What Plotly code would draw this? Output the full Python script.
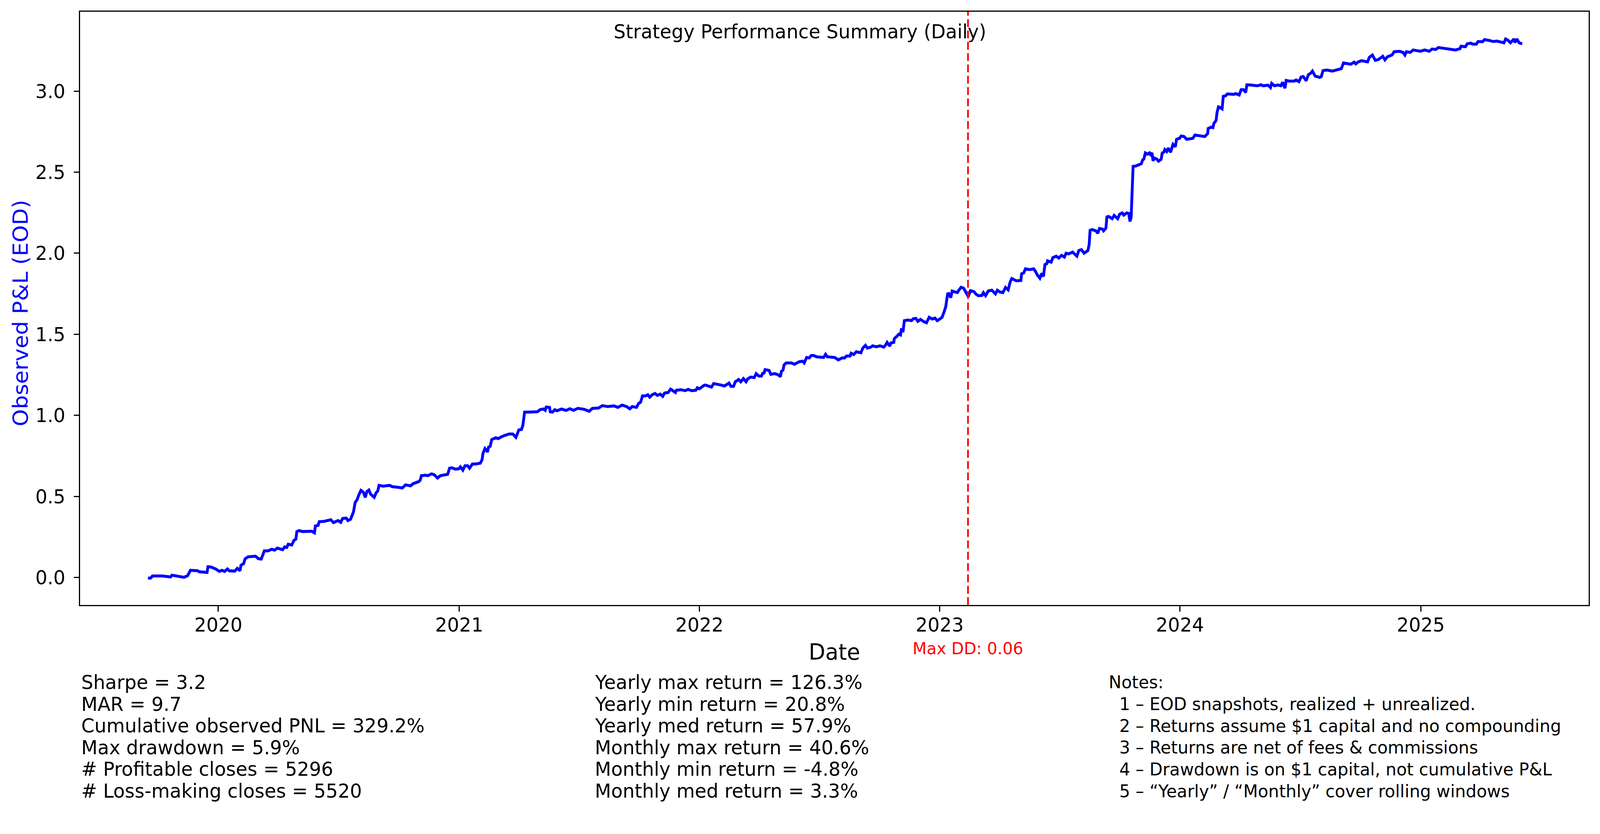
import pandas as pd
import plotly.graph_objects as go

# observed P&L curve (decimal year, P&L)
year_pos = [
    2019.707, 2019.718, 2019.726, 2019.767, 2019.801, 2019.807, 2019.857, 2019.872, 2019.884, 2019.914,
    2019.921, 2019.944, 2019.953, 2019.957, 2019.970, 2019.989, 2020.004, 2020.015, 2020.026, 2020.038,
    2020.045, 2020.068, 2020.079, 2020.090, 2020.094, 2020.105, 2020.111, 2020.123, 2020.154, 2020.166,
    2020.178, 2020.191, 2020.207, 2020.222, 2020.233, 2020.245, 2020.267, 2020.275, 2020.284, 2020.290,
    2020.305, 2020.314, 2020.322, 2020.326, 2020.335, 2020.350, 2020.388, 2020.399, 2020.403, 2020.414,
    2020.419, 2020.440, 2020.467, 2020.478, 2020.497, 2020.508, 2020.516, 2020.531, 2020.538, 2020.549,
    2020.561, 2020.568, 2020.576, 2020.583, 2020.592, 2020.602, 2020.610, 2020.617, 2020.625, 2020.632,
    2020.647, 2020.655, 2020.662, 2020.667, 2020.684, 2020.711, 2020.722, 2020.741, 2020.764, 2020.777,
    2020.798, 2020.809, 2020.824, 2020.832, 2020.838, 2020.843, 2020.852, 2020.858, 2020.870, 2020.885,
    2020.896, 2020.910, 2020.922, 2020.934, 2020.952, 2020.960, 2020.971, 2020.983, 2020.998, 2021.005,
    2021.015, 2021.024, 2021.035, 2021.043, 2021.055, 2021.069, 2021.088, 2021.095, 2021.099, 2021.107,
    2021.118, 2021.122, 2021.129, 2021.135, 2021.152, 2021.163, 2021.171, 2021.189, 2021.208, 2021.223,
    2021.236, 2021.248, 2021.259, 2021.265, 2021.272, 2021.287, 2021.317, 2021.326, 2021.336, 2021.351,
    2021.358, 2021.362, 2021.376, 2021.379, 2021.388, 2021.398, 2021.407, 2021.426, 2021.445, 2021.460,
    2021.476, 2021.494, 2021.520, 2021.541, 2021.554, 2021.580, 2021.596, 2021.618, 2021.645, 2021.660,
    2021.678, 2021.697, 2021.710, 2021.720, 2021.738, 2021.746, 2021.755, 2021.763, 2021.776, 2021.785,
    2021.793, 2021.803, 2021.815, 2021.825, 2021.837, 2021.847, 2021.855, 2021.870, 2021.880, 2021.889,
    2021.900, 2021.904, 2021.923, 2021.941, 2021.953, 2021.968, 2021.985, 2021.991, 2022.000, 2022.018,
    2022.025, 2022.050, 2022.059, 2022.089, 2022.104, 2022.123, 2022.131, 2022.142, 2022.149, 2022.163,
    2022.172, 2022.183, 2022.194, 2022.201, 2022.213, 2022.228, 2022.236, 2022.247, 2022.258, 2022.263,
    2022.269, 2022.273, 2022.290, 2022.297, 2022.314, 2022.328, 2022.337, 2022.341, 2022.348, 2022.352,
    2022.360, 2022.383, 2022.396, 2022.405, 2022.416, 2022.429, 2022.436, 2022.446, 2022.457, 2022.465,
    2022.476, 2022.487, 2022.510, 2022.517, 2022.525, 2022.532, 2022.563, 2022.578, 2022.593, 2022.604,
    2022.612, 2022.627, 2022.631, 2022.642, 2022.653, 2022.672, 2022.680, 2022.691, 2022.699, 2022.714,
    2022.721, 2022.736, 2022.751, 2022.767, 2022.774, 2022.781, 2022.792, 2022.797, 2022.809, 2022.811,
    2022.822, 2022.830, 2022.837, 2022.841, 2022.847, 2022.853, 2022.868, 2022.883, 2022.890, 2022.901,
    2022.909, 2022.920, 2022.935, 2022.945, 2022.956, 2022.969, 2022.980, 2022.990, 2023.000, 2023.010,
    2023.018, 2023.025, 2023.033, 2023.038, 2023.046, 2023.052, 2023.063, 2023.074, 2023.080, 2023.089,
    2023.100, 2023.108, 2023.119, 2023.128, 2023.143, 2023.150, 2023.161, 2023.176, 2023.182, 2023.191,
    2023.202, 2023.217, 2023.232, 2023.240, 2023.251, 2023.263, 2023.274, 2023.285, 2023.293, 2023.300,
    2023.311, 2023.319, 2023.338, 2023.341, 2023.350, 2023.357, 2023.375, 2023.391, 2023.398, 2023.406,
    2023.417, 2023.425, 2023.432, 2023.438, 2023.446, 2023.449, 2023.464, 2023.471, 2023.485, 2023.496,
    2023.507, 2023.519, 2023.526, 2023.537, 2023.553, 2023.566, 2023.571, 2023.579, 2023.590, 2023.601,
    2023.617, 2023.622, 2023.626, 2023.635, 2023.650, 2023.658, 2023.665, 2023.677, 2023.682, 2023.692,
    2023.696, 2023.703, 2023.718, 2023.726, 2023.741, 2023.749, 2023.760, 2023.766, 2023.779, 2023.787,
    2023.792, 2023.797, 2023.801, 2023.805, 2023.816, 2023.827, 2023.839, 2023.845, 2023.850, 2023.856,
    2023.865, 2023.873, 2023.878, 2023.884, 2023.888, 2023.894, 2023.903, 2023.911, 2023.922, 2023.926,
    2023.934, 2023.937, 2023.945, 2023.951, 2023.961, 2023.971, 2023.981, 2023.986, 2023.998, 2024.005,
    2024.017, 2024.028, 2024.039, 2024.054, 2024.062, 2024.081, 2024.103, 2024.115, 2024.117, 2024.130,
    2024.137, 2024.141, 2024.150, 2024.154, 2024.160, 2024.167, 2024.175, 2024.180, 2024.190, 2024.197,
    2024.224, 2024.231, 2024.246, 2024.254, 2024.264, 2024.273, 2024.278, 2024.294, 2024.321, 2024.336,
    2024.346, 2024.366, 2024.376, 2024.381, 2024.392, 2024.407, 2024.419, 2024.426, 2024.436, 2024.441,
    2024.452, 2024.475, 2024.482, 2024.494, 2024.503, 2024.512, 2024.524, 2024.533, 2024.542, 2024.550,
    2024.561, 2024.580, 2024.587, 2024.594, 2024.610, 2024.633, 2024.648, 2024.659, 2024.670, 2024.679,
    2024.693, 2024.709, 2024.723, 2024.730, 2024.738, 2024.753, 2024.779, 2024.786, 2024.799, 2024.811,
    2024.824, 2024.832, 2024.842, 2024.851, 2024.862, 2024.872, 2024.881, 2024.889, 2024.911, 2024.926,
    2024.934, 2024.940, 2024.956, 2024.968, 2024.998, 2025.016, 2025.035, 2025.047, 2025.062, 2025.073,
    2025.095, 2025.107, 2025.126, 2025.144, 2025.163, 2025.167, 2025.186, 2025.193, 2025.208, 2025.216,
    2025.231, 2025.238, 2025.257, 2025.265, 2025.287, 2025.302, 2025.317, 2025.346, 2025.353, 2025.362,
    2025.373, 2025.385, 2025.388, 2025.392, 2025.400, 2025.409, 2025.422,
]
pnl = [
    -0.004, -0.004, 0.009, 0.009, 0.003, 0.014, 0.001, 0.010, 0.044, 0.041,
    0.035, 0.029, 0.031, 0.066, 0.064, 0.052, 0.037, 0.044, 0.037, 0.052,
    0.041, 0.039, 0.056, 0.041, 0.075, 0.085, 0.114, 0.127, 0.131, 0.116,
    0.113, 0.164, 0.164, 0.174, 0.168, 0.181, 0.171, 0.188, 0.185, 0.205,
    0.200, 0.229, 0.236, 0.283, 0.289, 0.283, 0.285, 0.275, 0.318, 0.321,
    0.344, 0.346, 0.356, 0.338, 0.351, 0.340, 0.364, 0.366, 0.351, 0.359,
    0.404, 0.462, 0.479, 0.508, 0.537, 0.526, 0.494, 0.531, 0.539, 0.514,
    0.494, 0.522, 0.534, 0.568, 0.563, 0.568, 0.560, 0.557, 0.552, 0.571,
    0.565, 0.579, 0.585, 0.591, 0.600, 0.628, 0.629, 0.631, 0.628, 0.639,
    0.634, 0.613, 0.628, 0.631, 0.636, 0.674, 0.676, 0.668, 0.670, 0.682,
    0.662, 0.689, 0.689, 0.674, 0.700, 0.700, 0.705, 0.726, 0.766, 0.795,
    0.774, 0.804, 0.809, 0.850, 0.862, 0.856, 0.864, 0.876, 0.885, 0.885,
    0.864, 0.910, 0.913, 0.939, 1.020, 1.020, 1.022, 1.022, 1.035, 1.039,
    1.031, 1.051, 1.049, 1.022, 1.020, 1.035, 1.028, 1.039, 1.030, 1.041,
    1.031, 1.043, 1.037, 1.025, 1.043, 1.045, 1.060, 1.054, 1.058, 1.049,
    1.063, 1.054, 1.040, 1.054, 1.049, 1.072, 1.081, 1.120, 1.120, 1.127,
    1.112, 1.127, 1.135, 1.123, 1.131, 1.117, 1.138, 1.141, 1.162, 1.152,
    1.141, 1.155, 1.158, 1.152, 1.160, 1.152, 1.155, 1.170, 1.164, 1.184,
    1.187, 1.174, 1.196, 1.187, 1.181, 1.199, 1.179, 1.179, 1.207, 1.221,
    1.207, 1.227, 1.207, 1.225, 1.236, 1.233, 1.257, 1.242, 1.242, 1.259,
    1.261, 1.282, 1.277, 1.253, 1.257, 1.250, 1.238, 1.271, 1.280, 1.311,
    1.323, 1.323, 1.315, 1.323, 1.331, 1.334, 1.323, 1.357, 1.354, 1.369,
    1.369, 1.361, 1.361, 1.357, 1.377, 1.361, 1.357, 1.342, 1.354, 1.354,
    1.366, 1.366, 1.383, 1.375, 1.392, 1.386, 1.415, 1.432, 1.415, 1.421,
    1.429, 1.423, 1.429, 1.421, 1.432, 1.450, 1.427, 1.447, 1.450, 1.473,
    1.488, 1.501, 1.496, 1.536, 1.513, 1.584, 1.588, 1.584, 1.596, 1.598,
    1.580, 1.592, 1.577, 1.571, 1.605, 1.594, 1.600, 1.584, 1.594, 1.605,
    1.637, 1.669, 1.749, 1.751, 1.726, 1.767, 1.761, 1.758, 1.773, 1.790,
    1.784, 1.758, 1.732, 1.769, 1.763, 1.749, 1.738, 1.740, 1.757, 1.738,
    1.767, 1.772, 1.749, 1.772, 1.761, 1.757, 1.789, 1.774, 1.821, 1.844,
    1.838, 1.830, 1.832, 1.873, 1.879, 1.904, 1.899, 1.904, 1.890, 1.867,
    1.846, 1.876, 1.857, 1.930, 1.936, 1.953, 1.945, 1.973, 1.982, 1.970,
    1.987, 1.976, 2.000, 1.996, 2.007, 1.991, 1.982, 2.017, 2.022, 2.000,
    2.017, 2.052, 2.141, 2.146, 2.138, 2.123, 2.153, 2.149, 2.138, 2.155,
    2.224, 2.227, 2.213, 2.233, 2.213, 2.241, 2.249, 2.235, 2.249, 2.245,
    2.196, 2.224, 2.457, 2.536, 2.538, 2.547, 2.552, 2.576, 2.582, 2.619,
    2.611, 2.619, 2.608, 2.619, 2.570, 2.587, 2.582, 2.568, 2.580, 2.617,
    2.626, 2.640, 2.628, 2.649, 2.623, 2.672, 2.657, 2.703, 2.709, 2.723,
    2.720, 2.703, 2.706, 2.709, 2.729, 2.723, 2.720, 2.738, 2.769, 2.778,
    2.775, 2.801, 2.819, 2.868, 2.903, 2.899, 2.891, 2.968, 2.972, 2.983,
    2.980, 2.985, 2.976, 3.009, 3.009, 2.992, 3.039, 3.038, 3.033, 3.039,
    3.033, 3.037, 3.022, 3.048, 3.033, 3.038, 3.033, 3.055, 3.018, 3.066,
    3.062, 3.062, 3.069, 3.059, 3.087, 3.090, 3.064, 3.101, 3.110, 3.124,
    3.093, 3.085, 3.090, 3.127, 3.130, 3.124, 3.130, 3.139, 3.139, 3.174,
    3.170, 3.166, 3.179, 3.168, 3.179, 3.188, 3.181, 3.208, 3.223, 3.190,
    3.195, 3.203, 3.215, 3.193, 3.213, 3.218, 3.224, 3.243, 3.246, 3.239,
    3.223, 3.243, 3.239, 3.254, 3.246, 3.254, 3.246, 3.260, 3.257, 3.269,
    3.265, 3.262, 3.260, 3.254, 3.262, 3.277, 3.274, 3.292, 3.296, 3.290,
    3.290, 3.306, 3.305, 3.318, 3.312, 3.306, 3.309, 3.298, 3.322, 3.315,
    3.298, 3.318, 3.322, 3.300, 3.322, 3.298, 3.292,
]

max_dd_date = "2023-02-13"
max_dd_label = "Max DD: 0.06"

stats_left = [
    "Sharpe = 3.2",
    "MAR = 9.7",
    "Cumulative observed PNL = 329.2%",
    "Max drawdown = 5.9%",
    "# Profitable closes = 5296",
    "# Loss-making closes = 5520",
]
stats_mid = [
    "Yearly max return = 126.3%",
    "Yearly min return = 20.8%",
    "Yearly med return = 57.9%",
    "Monthly max return = 40.6%",
    "Monthly min return = -4.8%",
    "Monthly med return = 3.3%",
]
notes = [
    "1 \u2013 EOD snapshots, realized + unrealized.",
    "2 \u2013 Returns assume $1 capital and no compounding",
    "3 \u2013 Returns are net of fees & commissions",
    "4 \u2013 Drawdown is on $1 capital, not cumulative P&L",
    "5 \u2013 \u201cYearly\u201d / \u201cMonthly\u201d cover rolling windows",
]


def to_date(y):
    yr = int(y)
    start = pd.Timestamp(yr, 1, 1)
    days = (pd.Timestamp(yr + 1, 1, 1) - start).days
    return start + pd.Timedelta(days=(y - yr) * days)


dates = [to_date(y) for y in year_pos]

W, H = 4234, 2134
L, R, T, B = 212, 4204, 30, 1548
FONT = "DejaVu Sans"


def px(x):
    return (x - L) / (R - L)


def py(y):
    return (B - y) / (B - T)


fig = go.Figure()
fig.add_trace(go.Scatter(x=dates, y=pnl, mode="lines",
                         line=dict(color="#0000ff", width=7.5), showlegend=False))

fig.add_shape(type="line", x0=max_dd_date, x1=max_dd_date, y0=0, y1=1,
              xref="x", yref="paper",
              line=dict(color="#ff0000", width=4.5, dash="20px,9px"))

ann = []


def text(s, x, y, size, color="black", xanchor="left", angle=0):
    ann.append(dict(text=s, x=px(x), y=py(y), xref="paper", yref="paper",
                    showarrow=False, xanchor=xanchor, yanchor="middle",
                    textangle=angle, font=dict(family=FONT, size=size, color=color)))


text("Strategy Performance Summary (Daily)", 2117, 81, 50, xanchor="center")
text("Date", 2208, 1668, 57, xanchor="center")
text("Observed P&L (EOD)", 54, 801, 56, color="#0000ff", xanchor="center", angle=-90)
ann.append(dict(text=max_dd_label, x=max_dd_date, y=py(1659), xref="x", yref="paper",
                showarrow=False, xanchor="center", yanchor="middle",
                font=dict(family=FONT, size=43, color="#ff0000")))

line_gap = 55.6
for i, s in enumerate(stats_left):
    text(s, 213, 1746 + i * line_gap, 50)
for i, s in enumerate(stats_mid):
    text(s, 1572, 1746 + i * line_gap, 50)
text("Notes:", 2932, 1746, 45)
for i, s in enumerate(notes):
    text(s, 2960, 1746 + (i + 1) * line_gap, 45)

axis_common = dict(showgrid=False, zeroline=False, showline=True, mirror=True,
                   linecolor="black", linewidth=3, ticks="outside", ticklen=14,
                   tickwidth=3.3, tickcolor="black",
                   tickfont=dict(family=FONT, size=50, color="black"))

fig.update_layout(
    width=W, height=H,
    margin=dict(l=L, r=W - R, t=T, b=H - B),
    paper_bgcolor="white", plot_bgcolor="white",
    annotations=ann,
    xaxis=dict(type="date", range=["2019-06-05", "2025-09-13"],
               tick0="2020-01-01", dtick="M12", tickformat="%Y",
               ticklabelstandoff=-9, **axis_common),
    yaxis=dict(range=[-0.17, 3.49], tick0=0, dtick=0.5, tickformat=".1f",
               ticklabelstandoff=12, **axis_common),
)

# stretch the fixed-size figure onto whatever viewport the page gets
fit_js = """
document.body.style.margin = '0';
document.body.style.overflow = 'hidden';
var gd = document.getElementById('{plot_id}');
var sx = window.innerWidth / 4234, sy = window.innerHeight / 2134;
gd.style.transformOrigin = '0 0';
gd.style.transform = 'scale(' + sx + ',' + sy + ')';
"""

fig.write_html("out.html", post_script=fit_js, config={"displayModeBar": False})
